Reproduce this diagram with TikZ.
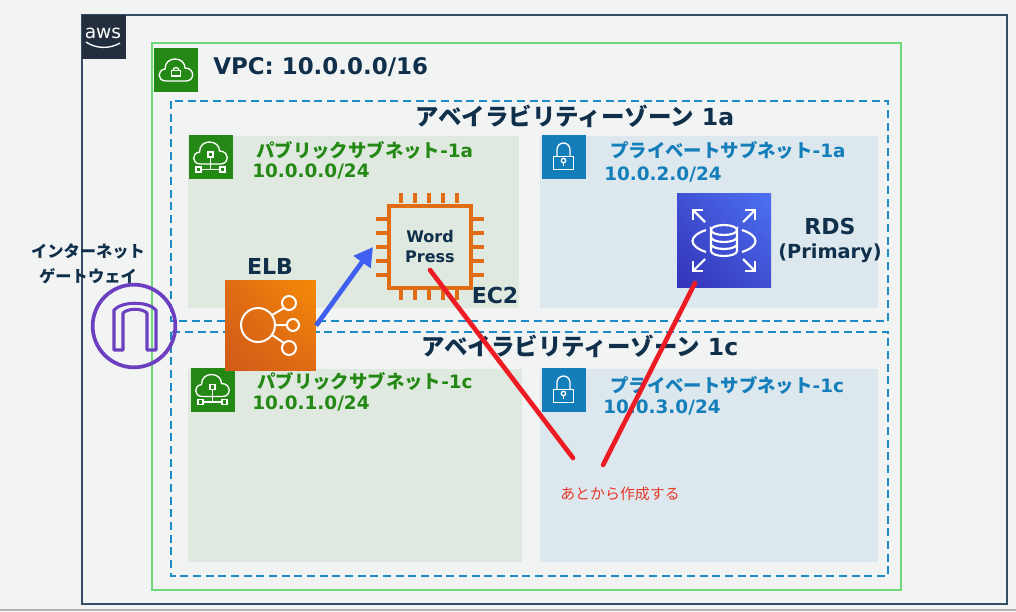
\documentclass[tikz,border=0pt]{standalone}
\usepackage{fontspec}
\setmainfont{DejaVu Sans}
\newfontfamily\jp{Noto Sans CJK JP}
\usetikzlibrary{arrows.meta,shadings}

\definecolor{pagebg}{HTML}{F2F4F4}
\definecolor{navy}{HTML}{0F2F4A}
\definecolor{awsdark}{HTML}{232F3E}
\definecolor{awsgreen}{HTML}{248814}
\definecolor{vpcline}{HTML}{6FD97A}
\definecolor{awsblue}{HTML}{147EBA}
\definecolor{azline}{HTML}{1F8AC8}
\definecolor{pubfill}{HTML}{DFE9DF}
\definecolor{prifill}{HTML}{DCE8EE}
\definecolor{igwpurple}{HTML}{6B3FBF}
\definecolor{ecorange}{HTML}{E06C14}
\definecolor{elbdark}{HTML}{D05A18}
\definecolor{elblight}{HTML}{F58A06}
\definecolor{rdsdark}{HTML}{3334B9}
\definecolor{rdsmid}{HTML}{4050D2}
\definecolor{rdslight}{HTML}{4D72F3}
\definecolor{arrowblue}{HTML}{3F5FF0}
\definecolor{redmark}{HTML}{ED1C24}
\definecolor{redtext}{HTML}{E8382A}

\tikzset{
  icontile/.style={minimum size=33pt,inner sep=0pt,fill=#1},
  pubtext/.style={anchor=west,inner sep=0pt,text=awsgreen,font=\fontsize{13.8}{15}\bfseries},
  pritext/.style={anchor=west,inner sep=0pt,text=awsblue,font=\fontsize{13.8}{15}\bfseries},
  aztext/.style={anchor=west,inner sep=0pt,text=navy,font=\fontsize{17.6}{20}\bfseries},
  navytext/.style={inner sep=0pt,text=navy,font=\fontsize{16.5}{18}\bfseries},
  icoline/.style={draw=white,line width=1pt,fill=none},
  azbox/.style={draw=azline,line width=1.4pt,dash pattern=on 6pt off 3.5pt},
  redline/.style={draw=redmark,line width=3.5pt,line cap=round},
  lockicon/.pic={
    \draw[icoline] (-10,0) rectangle (10,13);
    \draw[icoline] (-6.5,0) -- (-6.5,-7) arc[start angle=180,end angle=360,radius=6.5] -- (6.5,0);
    \draw[icoline] (0,4) circle[radius=2.2];
    \draw[icoline] (0,6.2) -- (0,9.5);
  },
  cloudpath/.pic={
    \draw[icoline] (-10,11) .. controls (-19,11) and (-19,0) .. (-11,-1)
      .. controls (-11,-8) and (-6,-11) .. (-1,-11)
      .. controls (5,-11) and (9,-7) .. (9,-2)
      .. controls (19,-2) and (19,11) .. (10,11) -- cycle;
  },
}

\begin{document}
\begin{tikzpicture}[x=.75pt,y=-.75pt]
  \useasboundingbox (0,0) rectangle (1016,611);
  \fill[pagebg] (0,0) rectangle (1016,611);
  \draw[black!30,line width=1pt] (0,610) -- (1016,610);

  % boxes
  \draw[draw=navy!85,line width=1.5pt] (82,15) rectangle (1007,604);
  \draw[draw=vpcline,line width=1.3pt] (152,43) rectangle (901,590);
  \fill[pubfill] (188,136) rectangle (519,308);
  \fill[prifill] (540,136) rectangle (878,308);
  \fill[pubfill] (188,369) rectangle (522,562);
  \fill[prifill] (540,369) rectangle (878,562);
  \draw[azbox] (171,101) rectangle (888,321);
  \draw[azbox] (171,332) rectangle (888,576);

  % aws tile
  \node[icontile=awsdark] (aws) at (104,37) {};
  \node[inner sep=0pt,text=white,font=\fontsize{14}{14}\selectfont] (awstext) at (103,33) {aws};
  \draw[white,line width=1pt] (86,42) .. controls (96,49) and (110,49) .. (120,43);

  % vpc tile
  \node[icontile=awsgreen] (vpcicon) at (176,69.5) {};
  \pic at (176,70) {cloudpath};
  \draw[icoline] (171.5,70.5) rectangle (180.5,76);
  \draw[icoline] (173,70.5) arc[start angle=180,end angle=360,radius=3];
  \node[anchor=west,inner sep=0pt,text=navy,font=\fontsize{17.2}{20}\bfseries] (vpclabel) at (213,67) {VPC: 10.0.0.0/16};

  % zone titles
  \node[aztext] (az1a) at (415,116) {{\jp アベイラビリティーゾーン} 1a};
  \node[aztext] (az1c) at (421,346) {{\jp アベイラビリティーゾーン} 1c};

  % subnet tiles
  \foreach \name/\px/\py in {pub1a/210.5/157,pub1c/212.5/389.5} {
    \node[icontile=awsgreen] (\name) at (\px,\py) {};
    \pic at (\px,\py-4) {cloudpath};
    \draw[icoline] (\px-2.5,\py-5) rectangle (\px+2.5,\py);
    \draw[icoline] (\px,\py) -- (\px,\py+12.5);
    \draw[icoline] (\px-9.5,\py+12.5) -- (\px+9.5,\py+12.5);
    \draw[icoline] (\px-14.5,\py+10) rectangle (\px-9.5,\py+15);
    \draw[icoline] (\px+9.5,\py+10) rectangle (\px+14.5,\py+15);
  }
  \foreach \name/\px/\py in {pri1a/563.5/156.5,pri1c/563.5/389.5} {
    \node[icontile=awsblue] (\name) at (\px,\py) {};
    \pic at (\px,\py) {lockicon};
  }

  % subnet labels
  \node[pubtext] (pub1aname) at (256,150) {{\jp パブリックサブネット}-1a};
  \node[pubtext] (pub1anet)  at (252,172) {10.0.0.0/24};
  \node[pritext] (pri1aname) at (610,150) {{\jp プライベートサブネット}-1a};
  \node[pritext] (pri1anet)  at (604,175) {10.0.2.0/24};
  \node[pubtext] (pub1cname) at (257,381) {{\jp パブリックサブネット}-1c};
  \node[pubtext] (pub1cnet)  at (252,404) {10.0.1.0/24};
  \node[pritext] (pri1cname) at (610,385) {{\jp プライベートサブネット}-1c};
  \node[pritext] (pri1cnet)  at (603,408) {10.0.3.0/24};

  % internet gateway
  \node[inner sep=0pt,align=center,text=navy,font=\fontsize{12.2}{18.7}\selectfont\jp\bfseries] (igwlabel) at (88,264) {インターネット\\ゲートウェイ};
  \node[circle,draw=igwpurple,line width=2.8pt,minimum size=62pt,inner sep=0pt] (igw) at (134,326) {};
  \draw[igwpurple,line width=2.3pt,line join=round] (114,350) -- (114,310)
    .. controls (122,301) and (148,301) .. (156,310) -- (156,350) -- (147,350) -- (147,313)
    .. controls (142,308) and (128,308) .. (123,313) -- (123,350) -- cycle;

  % elb
  \node[minimum size=68pt,inner sep=0pt,draw=none,shade,lower left=elbdark,upper right=elblight,upper left=ecorange,lower right=ecorange] (elb) at (270.5,325.5) {};
  \draw[white,line width=1.5pt] (258,325) circle[radius=17] (289,303) circle[radius=7]
    (293,325) circle[radius=6] (289,348) circle[radius=7];
  \draw[white,line width=1.5pt] (272,315) -- (284,308) (275,325) -- (287,325) (272,335) -- (284,343);
  \node[navytext] (elblabel) at (270,266) {ELB};

  % ec2 chip
  \node[minimum size=61pt,inner sep=0pt,draw=ecorange,line width=3pt] (ec2) at (430,247) {};
  \foreach \p in {401,415,429,443,457} {
    \draw[ecorange,line width=3pt] (\p,193) -- (\p,203);
    \draw[ecorange,line width=3pt] (\p,290) -- (\p,300);
  }
  \foreach \p in {219,233,247,261,275} {
    \draw[ecorange,line width=3pt] (376,\p) -- (387,\p);
    \draw[ecorange,line width=3pt] (473,\p) -- (484,\p);
  }
  \node[inner sep=0pt,align=center,text=navy,font=\fontsize{12}{15}\bfseries] (wp) at (430,247) {Word\\Press};
  \node[navytext] (ec2label) at (495,295) {EC2};

  % rds
  \node[minimum size=70.5pt,inner sep=0pt,shade,lower left=rdsdark,upper right=rdslight,upper left=rdsmid,lower right=rdsmid] (rds) at (724,240) {};
  \draw[white,line width=1.6pt] (711,230) arc[start angle=180,end angle=360,x radius=13,y radius=5]
    (711,230) arc[start angle=180,end angle=0,x radius=13,y radius=5] -- (737,251)
    arc[start angle=0,end angle=180,x radius=13,y radius=5] -- cycle
    (711,237) arc[start angle=180,end angle=0,x radius=13,y radius=5]
    (711,244) arc[start angle=180,end angle=0,x radius=13,y radius=5];
  \draw[white,line width=1.6pt] (706,230) .. controls (688,236) and (688,246) .. (706,252)
    (742,230) .. controls (760,236) and (760,246) .. (742,252);
  \foreach \tx/\ty/\dx/\dy in {693/210/1/1,755/210/-1/1,693/271/1/-1,755/271/-1/-1} {
    \draw[white,line width=1.6pt] (\tx,\ty) -- (\tx+12*\dx,\ty+12*\dy);
    \draw[white,line width=1.6pt] (\tx+10*\dx,\ty) -- (\tx,\ty) -- (\tx,\ty+10*\dy);
  }
  \node[navytext] (rdslabel) at (830,226) {RDS};
  \node[navytext,font=\fontsize{14.5}{18}\bfseries] (rdsnote) at (830,253) {(Primary)};

  % connectors
  \coordinate (chipin) at (373,247);
  \draw[draw=arrowblue,line width=3.6pt,-{Triangle[length=14pt,width=15pt]}] (elb.east) -- (chipin);
  \coordinate (laterA) at (573,458);
  \coordinate (laterB) at (603,465);
  \coordinate (chiptail) at (430,270);
  \coordinate (rdstail) at (695,283);
  \draw[redline] (chiptail) -- (laterA);
  \draw[redline] (rdstail) -- (laterB);
  \node[inner sep=0pt,text=redtext,font=\fontsize{11.2}{12}\jp] (later) at (620,494) {あとから作成する};
\end{tikzpicture}
\end{document}
